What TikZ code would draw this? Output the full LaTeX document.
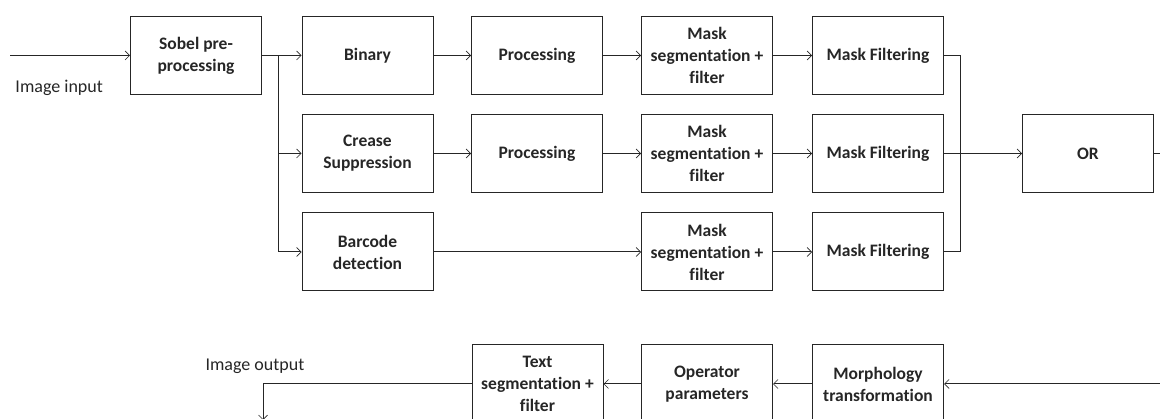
\documentclass[tikz,border=0pt]{standalone}
\usepackage{fontspec}
\setmainfont{Carlito}[Ligatures=NoCommon]
\usetikzlibrary{arrows.meta}
\begin{document}
\begin{tikzpicture}[x=1pt,y=-1pt, line width=1pt,
  stage/.style={draw=black!85, minimum width=131pt, minimum height=78pt,
    inner sep=0pt, align=center, text=black!85,
    font=\fontsize{17.5}{22}\selectfont\bfseries},
  flow/.style={draw=black!85, -{Straight Barb[length=4.5pt,width=9pt,line width=0.7pt]}},
  wire/.style={draw=black!85},
  caption/.style={font=\fontsize{18}{22}\selectfont, text=black!85, inner sep=0pt}]
\useasboundingbox (0,0) rectangle (1160,419);
\clip (0,0) rectangle (1160,419);

% processing stages, first branch
\node[stage] (sobel) at (196,55.5) {Sobel pre-\\processing};
\node[stage] (binary) at (367.5,55.5) {Binary};
\node[stage] (proc1) at (537,55.5) {Processing};
\node[stage] (mask1) at (707,55.5) {Mask\\segmentation +\\filter};
\node[stage] (filt1) at (878,55.5) {Mask Filtering};
% second branch
\node[stage] (crease) at (367.5,153.5) {Crease\\Suppression};
\node[stage] (proc2) at (537,153.5) {Processing};
\node[stage] (mask2) at (707,153.5) {Mask\\segmentation +\\filter};
\node[stage] (filt2) at (878,153.5) {Mask Filtering};
% third branch
\node[stage] (barcode) at (367.5,252) {Barcode\\detection};
\node[stage] (mask3) at (707,252) {Mask\\segmentation +\\filter};
\node[stage] (filt3) at (878,252) {Mask Filtering};
% merge
\node[stage] (or) at (1088,153.5) {OR};
% return path
\node[stage] (morph) at (878,384) {Morphology\\transformation};
\node[stage] (oper) at (707,384) {Operator\\parameters};
\node[stage] (text) at (537.5,384) {Text\\segmentation +\\filter};

% labels
\node[caption, anchor=base west] (inlabel) at (15,93) {Image input};
\node[caption, anchor=base west] (outlabel) at (205,371) {Image output};

% coordinates of the wiring
\coordinate (src) at (10,55.5);
\coordinate (split) at (278,55.5);
\coordinate (join) at (960,55.5);
\coordinate (orout) at (1165,153.5);
\coordinate (back) at (1165,384);
\coordinate (corner) at (263,384);
\coordinate (sink) at (263,420);

% input and fan-out
\draw[flow] (src) -- (sobel.west);
\draw[wire] (sobel.east) -- (split);
\draw[flow] (split) -- (binary.west);
\draw[flow] (split) |- (crease.west);
\draw[flow] (split) |- (barcode.west);

% pipelines
\draw[flow] (binary) -- (proc1);
\draw[flow] (proc1) -- (mask1);
\draw[flow] (mask1) -- (filt1);
\draw[flow] (crease) -- (proc2);
\draw[flow] (proc2) -- (mask2);
\draw[flow] (mask2) -- (filt2);
\draw[flow] (barcode) -- (mask3);
\draw[flow] (mask3) -- (filt3);

% fan-in to OR
\draw[wire] (filt1.east) -- (join) |- (filt3.east);
\draw[flow] (filt2) -- (or);
\draw[wire] (or.east) -- (orout);

% return path
\draw[flow] (back) -- (morph.east);
\draw[flow] (morph) -- (oper);
\draw[flow] (oper) -- (text);
\draw[wire] (text.west) -- (corner);
\draw[flow] (corner) -- (sink);
\end{tikzpicture}
\end{document}
